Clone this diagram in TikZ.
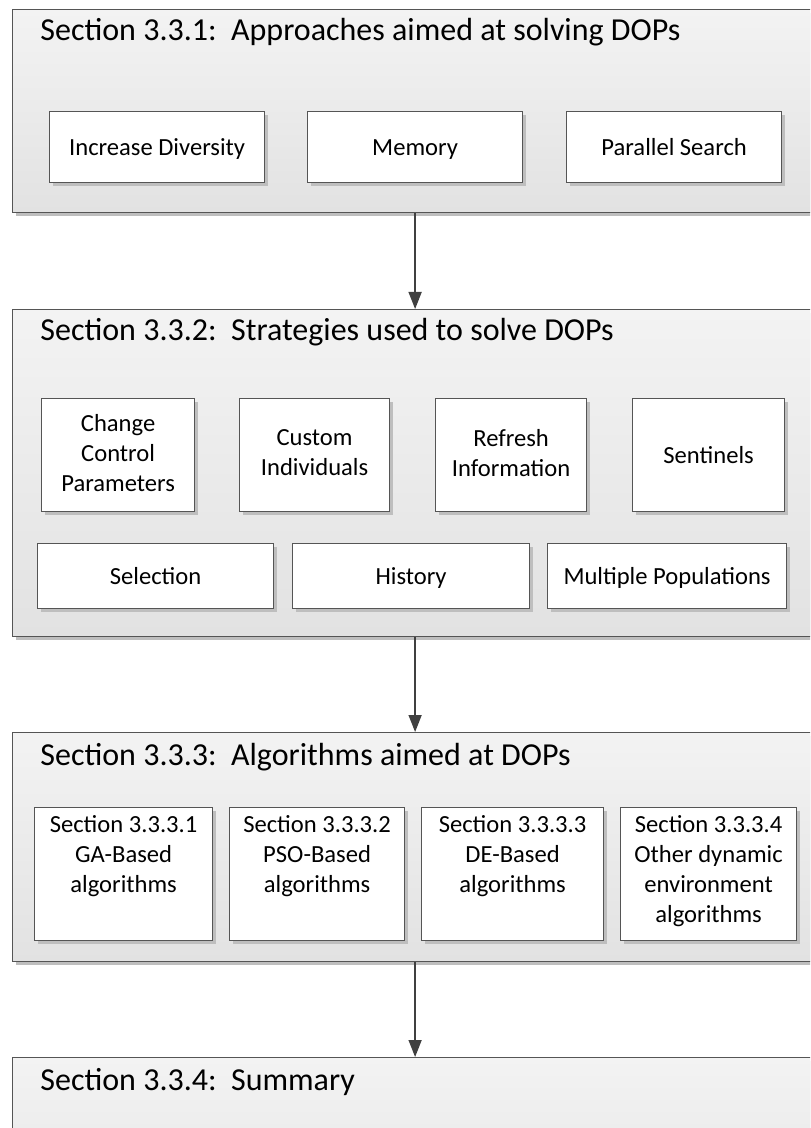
\documentclass[tikz,border=0pt]{standalone}
\usepackage{fontspec}
\setmainfont{Carlito}
\usetikzlibrary{arrows.meta,shadows}

\definecolor{panelTop}{HTML}{F3F3F3}
\definecolor{panelBot}{HTML}{E2E2E2}
\definecolor{edgeGray}{HTML}{555555}
\definecolor{arrowGray}{HTML}{404040}
\definecolor{shadowGray}{HTML}{BEBEBE}

\newcommand{\paneltitlefont}{\fontsize{16}{19}\selectfont}
\newcommand{\boxlabelfont}{\fontsize{12.3}{15}\selectfont}
\newcommand{\boxstrut}{\rule[-2.5pt]{0pt}{13pt}}

\begin{document}
\begin{tikzpicture}[x=0.5pt, y=-0.5pt,
                    panel/.style={draw=edgeGray, line width=0.6pt, top color=panelTop, bottom color=panelBot,
                                  anchor=north west, minimum width=402.5pt, inner sep=0pt,
                                  general shadow={fill=shadowGray, shadow xshift=1.5pt, shadow yshift=-1.5pt}},
                    sectitle/.style={anchor=base west, inner sep=0pt, font=\paneltitlefont},
                    itembox/.style={draw=edgeGray, line width=0.6pt, fill=white, anchor=north west, inner sep=0pt,
                                    align=center, font=\boxlabelfont,
                                    execute at begin node=\boxstrut, execute at end node=\boxstrut,
                                    general shadow={fill=shadowGray, shadow xshift=1.5pt, shadow yshift=-1.5pt}},
                    itemtext/.style={anchor=north, align=center, inner sep=0pt, font=\boxlabelfont},
                    flow/.style={draw=arrowGray, line width=0.8pt, -{Triangle[width=6.5pt, length=8.5pt]}}]
\useasboundingbox (0,0) rectangle (810,1128);
\clip (0,0) rectangle (810,1128);

\node[panel, minimum height=101.5pt] (p1) at (12,9) {};
\node[sectitle] (p1t) at ([xshift=14pt, yshift=-16pt]p1.north west) {Section 3.3.1:\ \ Approaches aimed at solving DOPs};
\node[itembox, minimum width=107.5pt, minimum height=35.5pt] (incdiv) at (49,111) {Increase Diversity};
\node[itembox, minimum width=107.5pt, minimum height=35.5pt] (memory) at (307,111) {Memory};
\node[itembox, minimum width=107.5pt, minimum height=35.5pt] (parsearch) at (566,111) {Parallel Search};

\node[panel, minimum height=163.5pt] (p2) at (12,309) {};
\node[sectitle] (p2t) at ([xshift=14pt, yshift=-16pt]p2.north west) {Section 3.3.2:\ \ Strategies used to solve DOPs};
\node[itembox, minimum width=76.5pt, minimum height=56.5pt] (ccp) at (41,398) {Change\\Control\\Parameters};
\node[itembox, minimum width=75pt, minimum height=56.5pt] (custind) at (239,398) {Custom\\Individuals};
\node[itembox, minimum width=75.5pt, minimum height=56.5pt] (refresh) at (435,398) {Refresh\\Information};
\node[itembox, minimum width=76pt, minimum height=56.5pt] (sentinels) at (632,398) {Sentinels};
\node[itembox, minimum width=118pt, minimum height=32.5pt] (selection) at (37,543) {Selection};
\node[itembox, minimum width=118.5pt, minimum height=32.5pt] (history) at (292,543) {History};
\node[itembox, minimum width=119.5pt, minimum height=32.5pt] (multipop) at (547,543) {Multiple Populations};

\node[panel, minimum height=114.5pt] (p3) at (12,732) {};
\node[sectitle] (p3t) at ([xshift=14pt, yshift=-16.5pt]p3.north west) {Section 3.3.3:\ \ Algorithms aimed at DOPs};
\node[itembox, minimum width=89pt, minimum height=66.5pt] (ga) at (34,807) {};
\node[itembox, minimum width=87.5pt, minimum height=66.5pt] (pso) at (229,807) {};
\node[itembox, minimum width=91pt, minimum height=66.5pt] (de) at (421,807) {};
\node[itembox, minimum width=88pt, minimum height=66.5pt] (other) at (620,807) {};
\node[itemtext] (gat) at ([yshift=-4pt]ga.north) {Section 3.3.3.1\\GA-Based\\algorithms};
\node[itemtext] (psot) at ([yshift=-4pt]pso.north) {Section 3.3.3.2\\PSO-Based\\algorithms};
\node[itemtext] (det) at ([yshift=-4pt]de.north) {Section 3.3.3.3\\DE-Based\\algorithms};
\node[itemtext] (othert) at ([yshift=-4pt]other.north) {Section 3.3.3.4\\Other dynamic\\environment\\algorithms};

\node[panel, minimum height=101.5pt] (p4) at (12,1057) {};
\node[sectitle] (p4t) at ([xshift=14pt, yshift=-16.5pt]p4.north west) {Section 3.3.4:\ \ Summary};

\draw[flow] (p1.south) -- (p2.north);
\draw[flow] (p2.south) -- (p3.north);
\draw[flow] (p3.south) -- (p4.north);
\end{tikzpicture}
\end{document}
